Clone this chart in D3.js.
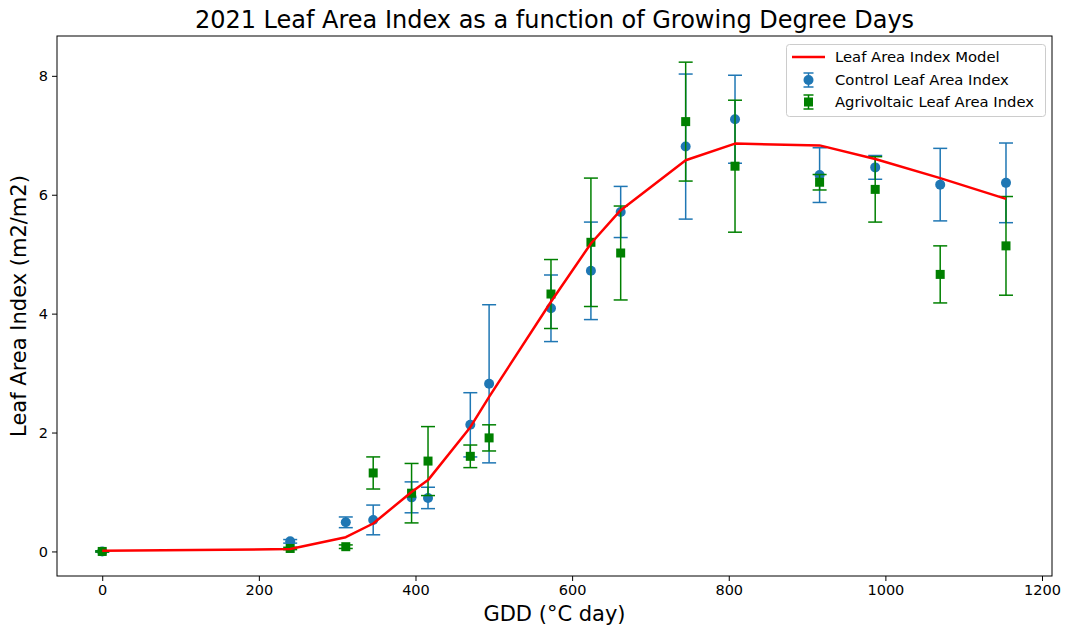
<!DOCTYPE html>
<html>
<head>
<meta charset="utf-8">
<script src="https://cdn.jsdelivr.net/npm/d3@7"></script>
<style>
  body { margin: 0; background: #fff; }
  svg text { font-family: "DejaVu Sans", sans-serif; fill: #000; }
</style>
</head>
<body>
<svg id="chart" width="1066" height="635"></svg>
<script>
// ---- data ----
const gdd = [0, 240, 311, 346, 395, 416, 470, 494, 573, 624, 662, 745, 808, 916, 987, 1070, 1154];
const modelLAI = [0.01, 0.04, 0.24, 0.47, 1.0, 1.2, 2.09, 2.6, 4.2, 5.18, 5.74, 6.58, 6.86, 6.83, 6.6, 6.28, 5.93];
const controlLAI = [0.0, 0.17, 0.49, 0.53, 0.91, 0.90, 2.13, 2.82, 4.09, 4.72, 5.71, 6.81, 7.27, 6.33, 6.46, 6.17, 6.2];
const controlErr = [0.01, 0.03, 0.09, 0.25, 0.26, 0.18, 0.54, 1.33, 0.56, 0.82, 0.43, 1.22, 0.74, 0.46, 0.2, 0.61, 0.67];
const agriLAI = [0.0, 0.05, 0.08, 1.32, 0.98, 1.52, 1.6, 1.91, 4.33, 5.2, 5.02, 7.23, 6.48, 6.21, 6.09, 4.66, 5.14];
const agriErr = [0.01, 0.02, 0.03, 0.27, 0.5, 0.58, 0.19, 0.22, 0.58, 1.08, 0.79, 1.0, 1.11, 0.13, 0.55, 0.48, 0.83];
const xTicks = [0, 200, 400, 600, 800, 1000, 1200];
const yTicks = [0, 2, 4, 6, 8];
const legendLabels = ["Leaf Area Index Model", "Control Leaf Area Index", "Agrivoltaic Leaf Area Index"];

// ---- layout ----
const W = 1066, H = 635;
const m = {left: 57, right: 14, top: 36, bottom: 59};
const svg = d3.select("#chart");
const x = d3.scaleLinear().domain([-57.75, 1212.75]).range([m.left, W - m.right]);
const y = d3.scaleLinear().domain([-0.413, 8.67]).range([H - m.bottom, m.top]);

const BLUE = "#1f77b4", GREEN = "#008000", RED = "#ff0000";

// axes
const xAxis = d3.axisBottom(x).tickValues(xTicks).tickSize(5).tickPadding(4).tickFormat(d3.format("d"));
const yAxis = d3.axisLeft(y).tickValues(yTicks).tickSize(5).tickPadding(4).tickFormat(d3.format("d"));
const gx = svg.append("g").attr("transform", `translate(0,${H - m.bottom})`).call(xAxis);
const gy = svg.append("g").attr("transform", `translate(${m.left},0)`).call(yAxis);
[gx, gy].forEach(g => {
  g.select(".domain").remove();
  g.selectAll("text").style("font-size", "14.5px").style("font-family", "DejaVu Sans, sans-serif").attr("fill", "#000");
  g.selectAll("line").attr("stroke", "#000").attr("stroke-width", 1);
});

// frame
svg.append("rect").attr("x", m.left).attr("y", m.top)
  .attr("width", W - m.left - m.right).attr("height", H - m.top - m.bottom)
  .attr("fill", "none").attr("stroke", "#000").attr("stroke-width", 1);

// error bar series
function drawSeries(vals, errs, color, shape) {
  const g = svg.append("g");
  const cap = 7;
  gdd.forEach((gv, i) => {
    const cx = x(gv), y1 = y(vals[i] + errs[i]), y2 = y(vals[i] - errs[i]);
    g.append("line").attr("x1", cx).attr("x2", cx).attr("y1", y1).attr("y2", y2)
      .attr("stroke", color).attr("stroke-width", 1.5);
    [y1, y2].forEach(yy => g.append("line").attr("x1", cx - cap).attr("x2", cx + cap)
      .attr("y1", yy).attr("y2", yy).attr("stroke", color).attr("stroke-width", 1.5));
  });
  gdd.forEach((gv, i) => {
    const cx = x(gv), cy = y(vals[i]);
    if (shape === "circle") g.append("circle").attr("cx", cx).attr("cy", cy).attr("r", 5).attr("fill", color);
    else g.append("rect").attr("x", cx - 4.5).attr("y", cy - 4.5).attr("width", 9).attr("height", 9).attr("fill", color);
  });
}
drawSeries(controlLAI, controlErr, BLUE, "circle");
drawSeries(agriLAI, agriErr, GREEN, "square");

// model line
const line = d3.line().x((d, i) => x(gdd[i])).y(d => y(d));
svg.append("path").datum(modelLAI).attr("d", line)
  .attr("fill", "none").attr("stroke", RED).attr("stroke-width", 2.5).attr("stroke-linejoin", "round");

// title and labels
svg.append("text").attr("x", (m.left + W - m.right) / 2).attr("y", 28).attr("text-anchor", "middle")
  .style("font-size", "24px").text("2021 Leaf Area Index as a function of Growing Degree Days");
svg.append("text").attr("x", (m.left + W - m.right) / 2).attr("y", 621).attr("text-anchor", "middle")
  .style("font-size", "21px").text("GDD (°C day)");
svg.append("text").attr("transform", `translate(26,${(m.top + H - m.bottom) / 2}) rotate(-90)`)
  .attr("text-anchor", "middle").style("font-size", "21px").text("Leaf Area Index (m2/m2)");

// legend
const lg = svg.append("g");
lg.append("rect").attr("x", 786.5).attr("y", 44.5).attr("width", 259).attr("height", 72).attr("rx", 3)
  .attr("fill", "#fff").attr("fill-opacity", 0.8).attr("stroke", "#ccc").attr("stroke-width", 1);
const rows = [57, 80, 102];
lg.append("line").attr("x1", 792).attr("x2", 825).attr("y1", rows[0]).attr("y2", rows[0])
  .attr("stroke", RED).attr("stroke-width", 2.5);
[[BLUE, "circle"], [GREEN, "square"]].forEach(([c, s], k) => {
  const cy = rows[k + 1], cx = 808.5;
  lg.append("line").attr("x1", cx).attr("x2", cx).attr("y1", cy - 7).attr("y2", cy + 7).attr("stroke", c).attr("stroke-width", 1.5);
  [cy - 7, cy + 7].forEach(yy => lg.append("line").attr("x1", cx - 5).attr("x2", cx + 5).attr("y1", yy).attr("y2", yy).attr("stroke", c).attr("stroke-width", 1.5));
  if (s === "circle") lg.append("circle").attr("cx", cx).attr("cy", cy).attr("r", 5).attr("fill", c);
  else lg.append("rect").attr("x", cx - 4.5).attr("y", cy - 4.5).attr("width", 9).attr("height", 9).attr("fill", c);
});
legendLabels.forEach((t, i) => lg.append("text").attr("x", 835).attr("y", rows[i] + 5)
  .style("font-size", "14.8px").text(t));
</script>
</body>
</html>
